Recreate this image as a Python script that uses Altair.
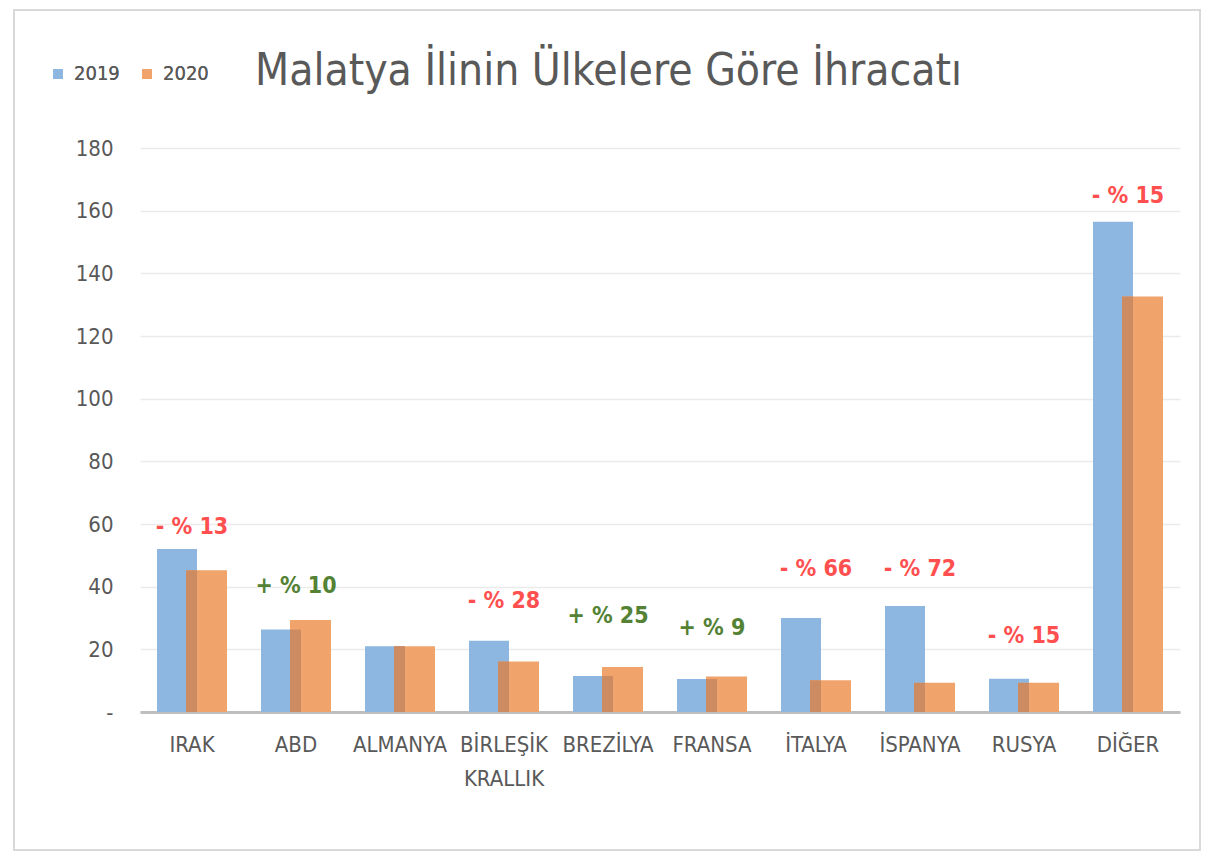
import altair as alt
import pandas as pd

countries = ["IRAK", "ABD", "ALMANYA", "BİRLEŞİK KRALLIK", "BREZİLYA", "FRANSA",
             "İTALYA", "İSPANYA", "RUSYA", "DİĞER"]
v2019 = [52, 26.3, 21, 22.7, 11.5, 10.5, 30, 33.8, 10.6, 156.5]
v2020 = [45.2, 29.4, 21, 16.1, 14.4, 11.3, 10.1, 9.3, 9.3, 132.6]
change_text = ["- % 13", "+ % 10", "", "- % 28", "+ % 25", "+ % 9",
               "- % 66", "- % 72", "- % 15", "- % 15"]
change_sign = ["neg", "pos", "none", "neg", "pos", "pos", "neg", "neg", "neg", "neg"]
label_y = [59, 40.3, 0, 35.5, 30.5, 26.7, 45.5, 45.5, 24.3, 164.7]
title_text = ["Malatya İlinin Ülkelere Göre İhracatı"]

years = ["2019", "2020"]
blue = "#8DB7E1"
orange = "#F0A46C"
overlap = "#CC8B61"
FONT = "DejaVu Sans Condensed, Roboto, sans-serif"
GREY = "#595959"

rows = []
for c, a, b in zip(countries, v2019, v2020):
    rows.append({"country": c, "year": "2019", "value": a})
    rows.append({"country": c, "year": "2020", "value": b})
long_df = pd.DataFrame(rows)
wide_df = pd.DataFrame({"country": countries, "v2019": v2019, "v2020": v2020,
                        "txt": change_text, "sign": change_sign, "ly": label_y})

xenc = alt.X("country:N", sort=countries, title=None,
             scale=alt.Scale(paddingInner=0, paddingOuter=0),
             axis=alt.Axis(labelAngle=0, labelFont=FONT, labelFontSize=22,
                           labelColor=GREY, labelPadding=22, tickSize=0,
                           domainColor="#BFBFBF", domainWidth=3, grid=False,
                           labelExpr="split(datum.label, ' ')", labelLineHeight=34))
yenc = alt.Y("value:Q", title=None,
             scale=alt.Scale(domain=[0, 180], nice=False),
             axis=alt.Axis(values=list(range(0, 181, 20)), labelFont=FONT,
                           labelFontSize=22, labelColor=GREY, labelPadding=27,
                           tickSize=0, domain=False, gridColor="#EBEBEB",
                           gridWidth=1.5,
                           labelExpr="datum.value == 0 ? '-' : datum.label"))
color = alt.Color("year:N", scale=alt.Scale(domain=years, range=[blue, orange]),
                  legend=alt.Legend(title=None, orient="none", direction="horizontal",
                                    legendX=-92, legendY=-84, symbolType="square",
                                    symbolSize=95, symbolStrokeWidth=0,
                                    labelFont=FONT, labelFontSize=20,
                                    labelColor=GREY, columnPadding=17,
                                    symbolOffset=0, labelOffset=6))

frame = alt.Chart(pd.DataFrame({"t": title_text})).mark_rect(
    filled=False, stroke="#D9D9D9", strokeWidth=2).encode(
    x=alt.value(-126), x2=alt.value(1060), y=alt.value(-138), y2=alt.value(702))

base = alt.Chart(long_df)
b19 = base.transform_filter("datum.year == '2019'").mark_bar(
    width=40, xOffset=-15).encode(x=xenc, y=yenc, color=color)
b20 = base.transform_filter("datum.year == '2020'").mark_bar(
    width=41, xOffset=14.5).encode(x=xenc, y=yenc, color=color)
ov = alt.Chart(wide_df).transform_calculate(
    value="min(datum.v2019, datum.v2020)").mark_bar(
    width=11, xOffset=-0.5, color=overlap).encode(
    x=alt.X("country:N", sort=countries), y=alt.Y("value:Q"))
labels = alt.Chart(wide_df).transform_filter("datum.txt != ''").mark_text(
    font=FONT, fontSize=23, fontWeight="bold", baseline="middle").encode(
    x=alt.X("country:N", sort=countries),
    y=alt.Y("ly:Q"),
    text="txt:N",
    color=alt.Color("sign:N", scale=alt.Scale(domain=["neg", "pos"],
                                              range=["#FF4F4F", "#548235"]),
                    legend=None))
title = alt.Chart(pd.DataFrame({"t": title_text})).mark_text(
    font=FONT, fontSize=44, color=GREY, align="left", baseline="middle").encode(
    x=alt.value(115), y=alt.value(-76), text="t:N")

chart = alt.layer(frame, b19, b20, ov, labels, title).resolve_scale(
    color="independent").properties(
    width=1040, height=564,
    autosize=alt.AutoSizeParams(type="none"),
    padding={"left": 132, "top": 140, "right": 21, "bottom": 140},
).configure(background="white").configure_view(strokeWidth=0)

chart.save("out.html", embed_options={"renderer": "svg", "actions": False})
